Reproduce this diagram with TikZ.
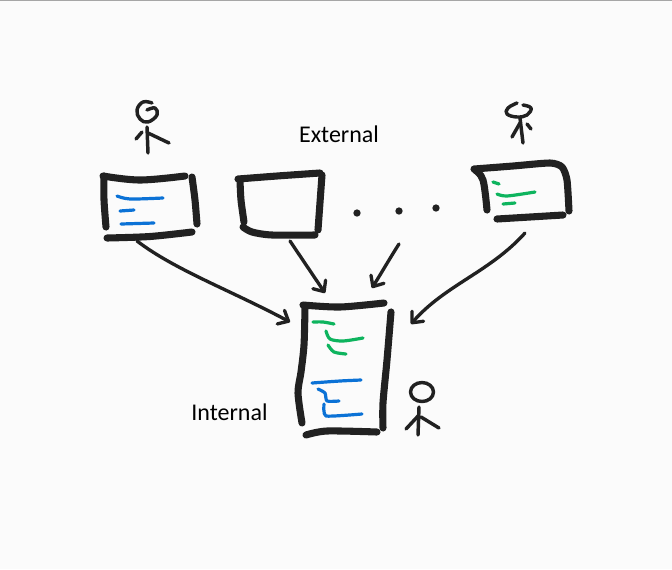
\documentclass[tikz,border=0pt]{standalone}
\usepackage{fontspec}
\setmainfont{Carlito}
\usetikzlibrary{arrows.meta}
\definecolor{ink}{HTML}{212121}
\definecolor{bgc}{HTML}{FBFBFB}
\definecolor{grn}{HTML}{0EB45E}
\definecolor{blu}{HTML}{0B72D6}
\tikzset{
  x=0.75pt,y=-0.75pt,
  frame/.style={draw=ink,line width=5.3pt,line cap=round,line join=round},
  stick/.style={draw=ink,line width=2.6pt,line cap=round,line join=round},
  gline/.style={draw=grn,line width=2.4pt,line cap=round,line join=round},
  bline/.style={draw=blu,line width=2.4pt,line cap=round,line join=round},
  conn/.style={draw=ink,line width=2.5pt,line cap=round,line join=round,-{Straight Barb[length=6.5pt,width=11.5pt,line width=2.5pt,round]}},
  label/.style={font=\fontsize{18}{21}\selectfont,text=black,inner sep=0pt},
  dot/.style={circle,fill=ink,inner sep=0pt,minimum size=5.5pt}
}
\begin{document}
\begin{tikzpicture}
\useasboundingbox (0,0) rectangle (672,569);
\fill[bgc] (0,0) rectangle (672,569);
\draw[line width=0.9pt,draw=black!35] (0,0.5) -- (672,0.5);

% box 1
\draw[frame] plot[smooth,tension=0.6] coordinates {(103,176)(140,180)(185,176)};
\draw[frame] plot[smooth] coordinates {(104,176)(104,200)(106,227)};
\draw[frame] plot[smooth] coordinates {(192,177)(195,200)(197,224)};
\draw[frame] plot[smooth] coordinates {(107,238)(150,236.5)(192,232)};
\draw[bline] plot[smooth] coordinates {(117,196)(130,199)(163,198)};
\draw[bline] (120,211) -- (134,210);
\draw[bline] (121,224) -- (154,223);
% person 1
\draw[stick] plot[smooth,tension=0.7] coordinates {(152,103)(143,102)(137,110)(140,119)(148,122)(157,115)(155,108)(147,110)};
\draw[stick] (147,127) -- (148,153);
\draw[stick] (142,132) -- (136,139);
\draw[stick] (148,133) -- (169,143);

% box 2
\draw[frame] plot[smooth] coordinates {(238,179)(277,176)(320,173)};
\draw[frame] plot[smooth] coordinates {(240,180)(241,200)(244,222)};
\draw[frame] (322,175) -- (318,230);
\draw[frame] plot[smooth,tension=0.5] coordinates {(243,227)(252,232)(272,235)(315,235)};

% dots
\node[dot] (d1) at (357,213) {};
\node[dot] (d2) at (399,211) {};
\node[dot] (d3) at (436,208) {};

% box 3
\draw[frame] plot[smooth,tension=0.4] coordinates {(474,169)(513,166)(550,163)(562,167)(567,180)(569,211)};
\draw[frame] plot[smooth,tension=0.6] coordinates {(475,170)(483,180)(487,210)};
\draw[frame] (497,219) -- (563,215);
\draw[gline] (493,182) -- (499,184);
\draw[gline] plot[smooth] coordinates {(497,194)(507,196)(535,192)};
\draw[gline] (503,204) -- (515,203);
% person 3
\draw[stick] plot[smooth,tension=0.7] coordinates {(517,103)(508,108)(507,114)(517,117)(527,115)(531,108)(523,105)};
\draw[stick] (520,118) -- (523,143);
\draw[stick] (520,123) -- (512,137);
\draw[stick] (527,124) -- (531,129);

% box 4
\draw[frame] plot[smooth] coordinates {(303,305)(340,307)(384,303)};
\draw[frame] plot[smooth,tension=0.5] coordinates {(305,307)(304,345)(301,372)(298,393)(302,423)};
\draw[frame] plot[smooth,tension=0.5] coordinates {(391,312)(387,360)(383,403)(383,428)};
\draw[frame] plot[smooth] coordinates {(306,435)(327,431)(377,432)};
\draw[gline] plot[smooth] coordinates {(313,322)(323,322)(334,324)};
\draw[gline] plot[smooth,tension=0.5] coordinates {(326,331)(330,339)(343,341)(363,338)};
\draw[gline] plot[smooth,tension=0.5] coordinates {(328,345)(334,352)(346,354)};
\draw[bline] plot[smooth] coordinates {(312,383)(340,381)(361,380)};
\draw[bline] plot[smooth,tension=0.4] coordinates {(318,389)(325,393)(327,401)(339,401)};
\draw[bline] plot[smooth,tension=0.3] coordinates {(324,404)(326,416)(362,414)};
% person 4
\draw[stick] (422,392) ellipse[x radius=11.5,y radius=9.5];
\draw[stick] (419,407) -- (418,435);
\draw[stick] (419,415) -- (406,429);
\draw[stick] (421,417) -- (439,428);

% connectors
\coordinate (a1s) at (137,241);
\coordinate (a1e) at (290,322);
\coordinate (a2s) at (290,241);
\coordinate (a2e) at (325,293);
\coordinate (a3s) at (399,244);
\coordinate (a3e) at (372,288);
\coordinate (a4s) at (525,233);
\coordinate (a4e) at (411,324);
\draw[conn] (a1s) .. controls (175,270) and (230,290) .. (a1e);
\draw[conn] (a2s) -- (a2e);
\draw[conn] (a3s) .. controls (390,258) and (382,272) .. (a3e);
\draw[conn] (a4s) .. controls (490,272) and (445,285) .. (a4e);

% labels
\node[label] (ext) at (339,134) {External};
\node[label] (int) at (229.5,412) {Internal};
\end{tikzpicture}
\end{document}
